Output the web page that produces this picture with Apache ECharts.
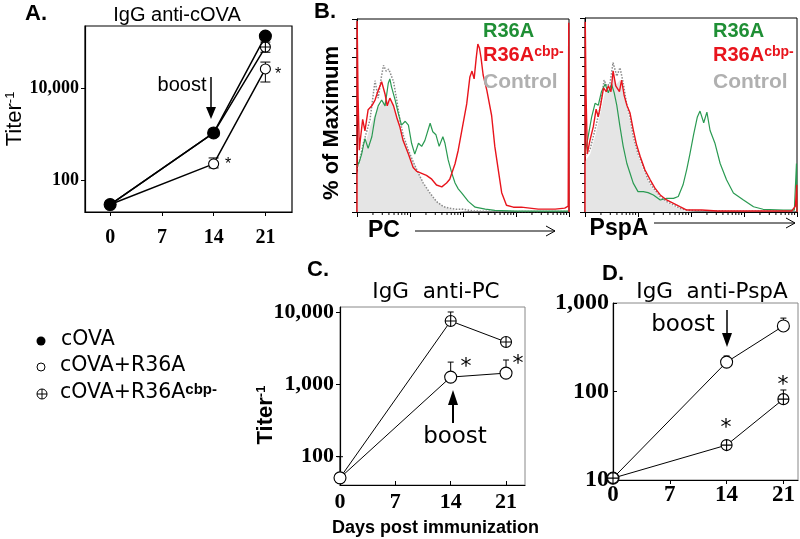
<!DOCTYPE html>
<html><head><meta charset="utf-8">
<script src="https://cdn.jsdelivr.net/npm/echarts@6/dist/echarts.min.js"></script>
<style>html,body{margin:0;padding:0;background:#fff}#c{width:800px;height:539px}</style>
</head><body><div id="c"></div>
<script>
// ---------- data ----------
const days = [0, 14, 21];
const dayTicks = [0, 7, 14, 21];
// Panel A: IgG anti-cOVA titers
const aCOVA = [29, 1050, 135000];
const aR36A = [29, 223, 26000];
const aCbp = [29, 1050, 78000];
const aErr = [[14, 182, 300], [21, 13500, 36700], [21, 60000, 100000]]; // [day, low, high]
const aYTicks = [100, 10000];
// Panel C: IgG anti-PC
const cR36A = [51, 1260, 1430];
const cCbp = [51, 7500, 3850];
const cErr = [[0, 51, 100], [14, 1260, 2030], [21, 1430, 2170], [14, 7500, 10000]];
const cYTicks = [100, 1000, 10000];
// Panel D: IgG anti-PspA
const dR36A = [10.5, 215, 550];
const dCbp = [10.5, 24.8, 82];
const dErr = [[14, 215, 252], [21, 550, 675], [21, 82, 104]];
const dYTicks = [10, 100, 1000];
// Panel B histograms: [log10 fluorescence (decades), % of max]
const pcFill = [[0,20],[0.12,32],[0.245,44],[0.37,53],[0.5,57],[0.59,58],[0.69,55],[0.78,48],[0.87,39],[1.0,30],[1.13,22],[1.25,15],[1.38,9.5],[1.5,5.4],[1.63,2.8],[1.75,1.5],[1.9,0.5],[2.1,0]];
const pcControl = [[0,22],[0.06,28],[0.12,35.6],[0.245,47.7],[0.34,68],[0.4,59],[0.46,70],[0.5,76],[0.55,73],[0.6,74],[0.69,67.5],[0.75,58],[0.81,47.7],[0.87,40],[0.97,32],[1.06,26],[1.16,20],[1.25,15],[1.38,9.7],[1.5,5.4],[1.63,2.8],[1.75,1.9],[1.88,1.4],[2.0,1.5],[2.2,0.5],[2.6,0.3],[4,0.3]];
const pcGreen = [[0,23.5],[0.044,26],[0.088,30],[0.15,38],[0.21,33],[0.28,39],[0.34,49],[0.4,55],[0.465,58],[0.53,55],[0.59,66.7],[0.62,69],[0.65,65],[0.72,58],[0.78,51],[0.84,45],[0.91,47],[0.97,45],[1.03,35.6],[1.09,30],[1.16,35.6],[1.22,34],[1.28,37],[1.38,46],[1.43,41.6],[1.49,40],[1.55,34],[1.62,39],[1.66,35.6],[1.72,27],[1.79,20],[1.85,15],[1.91,12],[1.97,10],[2.1,5.5],[2.23,2.5],[2.42,1.5],[2.6,0.8],[3.0,0.5],[4,0.5]];
const pcRed = [[0,0],[0.003,99],[0.02,60],[0.044,32],[0.057,36],[0.107,48],[0.15,42],[0.21,53],[0.28,55],[0.34,58],[0.4,63],[0.465,67.5],[0.53,61],[0.57,55],[0.62,59],[0.69,55],[0.75,49],[0.81,44],[0.87,37],[0.97,30],[1.06,23],[1.13,21],[1.22,20],[1.31,19],[1.41,17],[1.5,14],[1.6,13],[1.69,15],[1.75,17],[1.85,25],[1.91,32],[1.98,42.5],[2.07,56],[2.13,70],[2.17,73],[2.21,69],[2.25,80],[2.28,87],[2.31,85],[2.34,80],[2.38,71],[2.45,63],[2.54,50],[2.6,34],[2.67,21],[2.73,10],[2.82,3.5],[2.95,2.5],[3.1,2.5],[3.42,1.5],[3.74,1.5],[3.92,2],[3.985,3],[3.995,98],[4,0]];
const pspaFill = [[0,26],[0.1,30],[0.2,40],[0.3,52],[0.38,62],[0.47,64],[0.53,70],[0.6,66],[0.66,68],[0.72,62],[0.79,53],[0.85,47],[0.91,38],[1.0,29],[1.1,22],[1.19,16],[1.29,11.5],[1.42,7.5],[1.54,5],[1.67,3],[1.79,1.5],[1.92,0.5],[2.1,0]];
const pspaControl = [[0,28.7],[0.094,32],[0.19,42.5],[0.28,53],[0.36,68],[0.41,65],[0.47,66],[0.53,77],[0.6,70],[0.66,74.4],[0.72,66.7],[0.79,55],[0.85,49],[0.91,39],[1.0,30],[1.1,23.5],[1.19,16.6],[1.29,12.3],[1.42,8],[1.54,5.4],[1.67,3.6],[1.79,1.9],[1.92,1],[2.2,0.5],[4,0.3]];
const pspaGreen = [[0,30],[0.06,39],[0.126,49],[0.19,56],[0.25,55],[0.31,62],[0.38,66],[0.44,61.5],[0.5,66],[0.55,61.5],[0.6,55],[0.66,44],[0.72,34],[0.79,25],[0.85,20],[0.91,14.9],[1.0,10.5],[1.1,10.5],[1.19,10],[1.29,8.8],[1.42,6.2],[1.54,7],[1.67,7],[1.76,8],[1.85,14],[1.92,22],[1.98,30],[2.05,40],[2.12,49],[2.17,52],[2.24,46],[2.3,51.5],[2.36,42],[2.45,35.6],[2.55,25],[2.67,16.6],[2.8,9.8],[2.99,6.2],[3.18,2.7],[3.36,1.4],[3.74,1],[3.95,1],[3.99,25],[4,0]];
const pspaRed = [[0,0],[0.005,98],[0.02,60],[0.044,30],[0.094,37],[0.157,44],[0.21,53],[0.25,49],[0.3,56],[0.35,64],[0.4,62],[0.44,65],[0.49,62],[0.53,72.7],[0.58,65],[0.65,62],[0.69,68],[0.74,60],[0.79,55],[0.85,51],[0.91,42.5],[0.97,35],[1.04,28.7],[1.13,21.8],[1.23,16.6],[1.32,12.3],[1.42,8.8],[1.54,6.2],[1.67,4.5],[1.79,2.8],[1.92,1],[2.2,1],[2.5,0.5],[3.9,0.5],[3.97,3],[3.995,14],[4,0]];
const histLabels = ['R36A', 'R36A', 'Control'];

// ---------- helpers ----------
const L = Math.log10;
const toPts = vals => days.map((d, i) => [d, L(vals[i])]);
const toErr = arr => arr.map(e => [e[0], L(e[1]), L(e[2])]);
const fmt = v => Math.round(Math.pow(10, v)).toLocaleString('en-US');
const SERIF = "'Liberation Serif','Times New Roman',serif";
const SANS = "'Liberation Sans',Arial,sans-serif";
const NARROW = "'Liberation Sans Narrow','Liberation Sans',sans-serif";
const DJ = "'DejaVu Sans',sans-serif";
const GREEN = '#2a9a52', RED = '#e8141c', GREENT = '#1f8f35', GRAYT = '#b0b0b0';
const CROSS = 'path://M10,0A10,10,0,1,1,-10,0A10,10,0,1,1,10,0ZM-10,0L10,0M0,-10L0,10';
const minorPos = [];
for (let d = 0; d < 4; d++) for (let k = 2; k <= 9; k++) minorPos.push([d + L(k), 0]);

function errRender(capBoth, capW) {
  return function (params, api) {
    const x = api.value(0), lo = api.value(1), hi = api.value(2);
    const p1 = api.coord([x, lo]), p2 = api.coord([x, hi]);
    const st = { stroke: '#000', lineWidth: 1 };
    const ch = [
      { type: 'line', shape: { x1: p1[0], y1: p1[1], x2: p2[0], y2: p2[1] }, style: st },
      { type: 'line', shape: { x1: p2[0] - capW, y1: p2[1], x2: p2[0] + capW, y2: p2[1] }, style: st }
    ];
    if (capBoth) ch.push({ type: 'line', shape: { x1: p1[0] - capW, y1: p1[1], x2: p1[0] + capW, y2: p1[1] }, style: st });
    return { type: 'group', children: ch };
  };
}
function minorRender(params, api) {
  const p = api.coord([api.value(0), 0]);
  return { type: 'line', shape: { x1: p[0], y1: p[1], x2: p[0], y2: p[1] + 3 }, style: { stroke: '#000', lineWidth: 1 } };
}

// ---------- axes ----------
const blackLine = { show: true, onZero: false, lineStyle: { color: '#000', width: 1.2 } };
function dayAxis(g, max, min, size, margin, inside) {
  return { type: 'value', gridIndex: g, min: min, max: max, splitLine: { show: false }, axisLine: blackLine,
    axisTick: { show: true, customValues: dayTicks, inside: inside, length: 4, lineStyle: { color: '#000' } },
    axisLabel: { customValues: dayTicks, fontFamily: SERIF, fontWeight: 'bold', fontSize: size, color: '#000', margin: margin } };
}
function titerAxis(g, min, max, ticks, size, margin, inside) {
  const cv = ticks.map(L);
  return { type: 'value', gridIndex: g, min: min, max: max, splitLine: { show: false }, axisLine: blackLine,
    axisTick: { show: true, customValues: cv, inside: inside, length: 4, lineStyle: { color: '#000' } },
    axisLabel: { customValues: cv, formatter: fmt, fontFamily: SERIF, fontWeight: 'bold', fontSize: size, color: '#000', margin: margin } };
}
function histX(g) {
  return { type: 'value', gridIndex: g, min: 0, max: 4, interval: 1, splitLine: { show: false },
    axisLine: { show: true, onZero: false, lineStyle: { color: '#000', width: 1 } },
    axisTick: { show: true, length: 5, lineStyle: { color: '#000' } }, axisLabel: { show: false } };
}
function histY(g) {
  return { type: 'value', gridIndex: g, min: 0, max: 100, interval: 20, splitLine: { show: false },
    axisLine: { show: true, onZero: false, lineStyle: { color: '#000', width: 1 } },
    axisTick: { show: true, length: 5, lineStyle: { color: '#000' } },
    minorTick: { show: true, splitNumber: 4, length: 3, lineStyle: { color: '#000' } },
    minorSplitLine: { show: false }, axisLabel: { show: false } };
}

// ---------- series ----------
const series = [];
function titerSeries(g, vals, kind, size, lw) {
  const sym = kind === 'filled' ? 'circle' : kind === 'open' ? 'circle' : CROSS;
  series.push({ type: 'line', xAxisIndex: g, yAxisIndex: g, data: toPts(vals), symbol: sym, symbolSize: size,
    lineStyle: { color: '#000', width: lw },
    itemStyle: { color: kind === 'filled' ? '#000' : '#fff', borderColor: '#000', borderWidth: 1.1 }, z: 3 });
}
function errSeries(g, arr, capBoth, capW) {
  series.push({ type: 'custom', xAxisIndex: g, yAxisIndex: g, data: toErr(arr), renderItem: errRender(capBoth, capW),
    encode: { x: 0, y: [1, 2] }, clip: false, z: 2 });
}
function histSeries(g, fill, ctrl, green, red) {
  series.push({ type: 'line', xAxisIndex: g, yAxisIndex: g, data: fill, symbol: 'none',
    lineStyle: { width: 0 }, areaStyle: { color: '#e5e5e5', opacity: 1 }, z: 1 });
  series.push({ type: 'line', xAxisIndex: g, yAxisIndex: g, data: ctrl, symbol: 'none',
    lineStyle: { color: '#8a8a8a', width: 1.5, type: 'dotted' }, z: 2 });
  series.push({ type: 'line', xAxisIndex: g, yAxisIndex: g, data: green, symbol: 'none',
    lineStyle: { color: GREEN, width: 1.2 }, z: 3 });
  series.push({ type: 'line', xAxisIndex: g, yAxisIndex: g, data: red, symbol: 'none',
    lineStyle: { color: RED, width: 1.4 }, z: 4 });
  series.push({ type: 'custom', xAxisIndex: g, yAxisIndex: g, data: minorPos, renderItem: minorRender,
    encode: { x: 0, y: 1 }, clip: false, z: 5 });
}
// A
errSeries(0, aErr, true, 5);
titerSeries(0, aCbp, 'cross', 10, 1.5);
titerSeries(0, aR36A, 'open', 10, 1.5);
titerSeries(0, aCOVA, 'filled', 12, 1.5);
// B
histSeries(1, pcFill, pcControl, pcGreen, pcRed);
histSeries(2, pspaFill, pspaControl, pspaGreen, pspaRed);
// C
errSeries(3, cErr, false, 3);
titerSeries(3, cCbp, 'cross', 11, 1);
titerSeries(3, cR36A, 'open', 12, 1);
// D
errSeries(4, dErr, false, 3);
titerSeries(4, dR36A, 'open', 12, 1);
titerSeries(4, dCbp, 'cross', 11, 1);

// ---------- annotations ----------
function txt(x, y, text, font, opt) {
  opt = opt || {};
  return { type: 'text', x: x, y: y, rotation: opt.rot || 0, z: 50,
    style: Object.assign({ text: text, font: font, fill: opt.fill || '#000', align: opt.align || 'center', verticalAlign: 'middle' }, opt.extra || {}) };
}
function supTxt(x, y, main, sup, mainFont, supFont, opt) {
  opt = opt || {};
  return { type: 'text', x: x, y: y, rotation: opt.rot || 0, z: 50,
    style: { text: '{m|' + main + '}{s|' + sup + '}', align: opt.align || 'center', verticalAlign: 'middle',
      rich: { m: { font: mainFont, fill: opt.fill || '#000' }, s: { font: supFont, fill: opt.fill || '#000', verticalAlign: 'top' } } } };
}
function arrowDown(x, y1, y2, hw, hl) {
  return [{ type: 'line', z: 50, shape: { x1: x, y1: y1, x2: x, y2: y2 - hl + 1 }, style: { stroke: '#000', lineWidth: 1.5 } },
    { type: 'polygon', z: 50, shape: { points: [[x - hw, y2 - hl], [x + hw, y2 - hl], [x, y2]] }, style: { fill: '#000' } }];
}
function arrowUp(x, y1, y2, hw, hl) {
  return [{ type: 'line', z: 50, shape: { x1: x, y1: y1, x2: x, y2: y2 + hl - 1 }, style: { stroke: '#000', lineWidth: 2 } },
    { type: 'polygon', z: 50, shape: { points: [[x - hw, y2 + hl], [x + hw, y2 + hl], [x, y2]] }, style: { fill: '#000' } }];
}
function arrowRight(x1, x2, y) {
  return [{ type: 'line', z: 50, shape: { x1: x1, y1: y, x2: x2, y2: y }, style: { stroke: '#000', lineWidth: 1 } },
    { type: 'polyline', z: 50, shape: { points: [[x2 - 9, y - 5], [x2, y], [x2 - 9, y + 5]] }, style: { stroke: '#000', lineWidth: 1, fill: null } }];
}
function histLegend(x) {
  return [
    txt(x, 31, histLabels[0], 'bold 20px ' + SANS, { fill: GREENT, align: 'left' }),
    supTxt(x, 55, histLabels[1], 'cbp-', 'bold 20px ' + SANS, 'bold 14px ' + SANS, { fill: RED, align: 'left' }),
    txt(x, 82, histLabels[2], 'bold 21px ' + SANS, { fill: GRAYT, align: 'left' })
  ];
}
const graphics = [].concat(
  [txt(36, 14, 'A.', 'bold 22px ' + SANS),
   txt(177, 15, 'IgG anti-cOVA', '20px ' + NARROW),
   supTxt(15, 119, 'Titer', '-1', '22px ' + SANS, '13px ' + SANS, { rot: Math.PI / 2 }),
   txt(182, 85, 'boost', '20px ' + NARROW),
   txt(228, 165, '*', '16px ' + SANS),
   txt(278, 75, '*', '16px ' + SANS)],
  arrowDown(211, 77, 119, 5, 12),
  [txt(325, 12, 'B.', 'bold 22px ' + SANS),
   txt(332, 123, '% of Maximum', 'bold 22px ' + SANS, { rot: Math.PI / 2 }),
   txt(384, 231, 'PC', 'bold 23px ' + SANS),
   txt(619, 229, 'PspA', 'bold 23px ' + SANS)],
  arrowRight(415, 555, 231),
  arrowRight(654, 795, 223),
  histLegend(483), histLegend(713),
  // legend
  [{ type: 'circle', z: 50, shape: { cx: 41, cy: 341, r: 4.5 }, style: { fill: '#000' } },
   { type: 'circle', z: 50, shape: { cx: 41, cy: 367, r: 4 }, style: { fill: '#fff', stroke: '#000', lineWidth: 1 } },
   { type: 'circle', z: 50, shape: { cx: 42, cy: 394, r: 5 }, style: { fill: '#fff', stroke: '#000', lineWidth: 1 } },
   { type: 'line', z: 50, shape: { x1: 37, y1: 394, x2: 47, y2: 394 }, style: { stroke: '#000', lineWidth: 1 } },
   { type: 'line', z: 50, shape: { x1: 42, y1: 389, x2: 42, y2: 399 }, style: { stroke: '#000', lineWidth: 1 } },
   txt(61, 340, 'cOVA', '20.5px ' + DJ, { align: 'left' }),
   txt(60, 366, 'cOVA+R36A', '20.5px ' + DJ, { align: 'left' }),
   supTxt(60, 393, 'cOVA+R36A', 'cbp-', '20.5px ' + DJ, 'bold 15px ' + SANS, { align: 'left' })],
  // C
  [txt(318, 270, 'C.', 'bold 22px ' + SANS),
   txt(436, 292, 'IgG  anti-PC', '21.5px ' + DJ),
   supTxt(266, 415, 'Titer', '-1', 'bold 22px ' + SANS, 'bold 13px ' + SANS, { rot: Math.PI / 2 }),
   txt(455, 437, 'boost', '23px ' + DJ),
   txt(466, 367, '*', '22px ' + DJ),
   txt(518, 364, '*', '22px ' + DJ),
   txt(332, 528, 'Days post immunization', 'bold 18px ' + SANS, { align: 'left' })],
  arrowUp(453, 423, 390, 5, 15),
  // D
  [txt(613, 274, 'D.', 'bold 22px ' + SANS),
   txt(712, 292, 'IgG  anti-PspA', '21.5px ' + DJ),
   txt(683, 325, 'boost', '23px ' + DJ),
   txt(726, 428, '*', '22px ' + DJ),
   txt(783, 385, '*', '22px ' + DJ)],
  arrowDown(727, 310, 347, 5, 14)
);

const option = {
  animation: false,
  backgroundColor: '#fff',
  grid: [
    { left: 85, top: 26, width: 207, height: 186, show: true, borderColor: '#000', borderWidth: 1.2 },
    { left: 357, top: 19, width: 212, height: 193, show: true, borderColor: '#000', borderWidth: 1 },
    { left: 585, top: 18, width: 212, height: 194, show: true, borderColor: '#000', borderWidth: 1 },
    { left: 340, top: 307, width: 185, height: 178, show: true, borderColor: '#888', borderWidth: 1 },
    { left: 613, top: 303, width: 185, height: 177, show: true, borderColor: '#888', borderWidth: 1 }
  ],
  xAxis: [
    dayAxis(0, 24.6, -3.4, 20, 16, false),
    histX(1), histX(2),
    dayAxis(3, 23.4, 0, 22, 6, true),
    dayAxis(4, 22.8, 0, 23, 4, false)
  ],
  yAxis: [
    titerAxis(0, 1.3, 5.35, aYTicks, 18, 6, false),
    histY(1), histY(2),
    titerAxis(3, 1.609, 4.069, cYTicks, 22, 6, false),
    titerAxis(4, 1, 3, dYTicks, 24, 4, true)
  ],
  series: series,
  graphic: graphics
};
const chart = echarts.init(document.getElementById('c'), null, { renderer: 'canvas' });
chart.setOption(option);
</script>
</body></html>
